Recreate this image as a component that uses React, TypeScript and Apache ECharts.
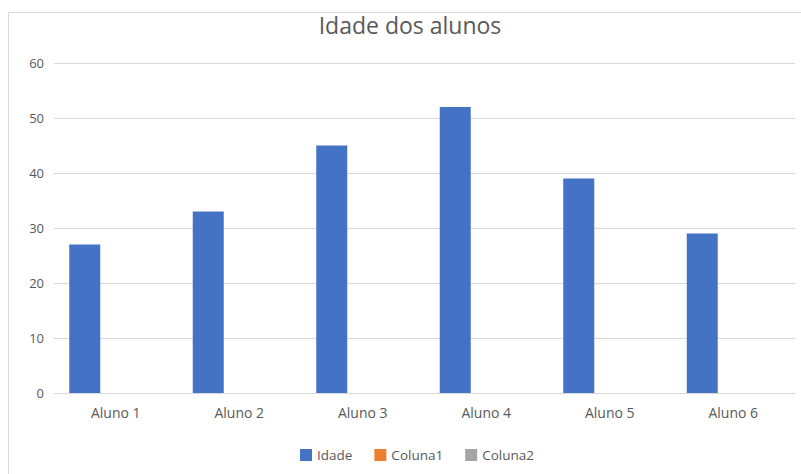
import React, { useEffect, useRef } from "react";
import * as echarts from "echarts";

const categories = ["Aluno 1", "Aluno 2", "Aluno 3", "Aluno 4", "Aluno 5", "Aluno 6"];
const idade = [27, 33, 45, 52, 39, 29];
const coluna1: (number | null)[] = [null, null, null, null, null, null];
const coluna2: (number | null)[] = [null, null, null, null, null, null];
const seriesNames = ["Idade", "Coluna1", "Coluna2"];
const seriesColors = ["#4472C4", "#ED7D31", "#A5A5A5"];

export default function App() {
  const ref = useRef<HTMLDivElement>(null);
  useEffect(() => {
    if (!ref.current) return;
    const chart = echarts.init(ref.current, null, { renderer: "svg" });
    const font = "'Open Sans', 'Noto Sans', sans-serif";
    const data = [idade, coluna1, coluna2];
    chart.setOption({
      animation: false,
      backgroundColor: "#ffffff",
      textStyle: { fontFamily: font },
      graphic: [
        {
          type: "rect",
          shape: { x: 8.5, y: 12.5, width: 820, height: 500 },
          style: { fill: "none", stroke: "#d9d9d9", lineWidth: 1 },
          silent: true,
        },
      ],
      title: {
        text: "Idade dos alunos",
        left: 410,
        textAlign: "center",
        top: 13,
        padding: 0,
        textStyle: { fontFamily: font, fontSize: 23, fontWeight: "normal", color: "#595959" },
      },
      legend: {
        data: seriesNames,
        left: 300,
        top: 448,
        padding: 0,
        itemWidth: 12,
        itemHeight: 12,
        itemGap: 22,
        icon: "rect",
        textStyle: { fontFamily: font, fontSize: 13.5, color: "#595959" },
      },
      grid: { left: 54, right: 6, top: 63, bottom: 81, containLabel: false },
      xAxis: {
        type: "category",
        data: categories,
        axisLine: { show: true, lineStyle: { color: "#d9d9d9", width: 1 } },
        axisTick: { show: false },
        axisLabel: { color: "#595959", fontSize: 14, margin: 12, fontFamily: font },
      },
      yAxis: {
        type: "value",
        min: 0,
        max: 60,
        interval: 10,
        axisLine: { show: false },
        axisTick: { show: false },
        axisLabel: { color: "#595959", fontSize: 13, margin: 10, fontFamily: font },
        splitLine: { lineStyle: { color: "#d9d9d9", width: 1 } },
      },
      series: seriesNames.map((name, i) => ({
        name,
        type: "bar",
        data: data[i],
        barGap: "0%",
        barCategoryGap: "24.7%",
        itemStyle: { color: seriesColors[i] },
      })),
    });
    return () => chart.dispose();
  }, []);
  return (
    <div
      ref={ref}
      style={{ position: "absolute", left: 0, top: 0, width: 801, height: 474 }}
    />
  );
}
